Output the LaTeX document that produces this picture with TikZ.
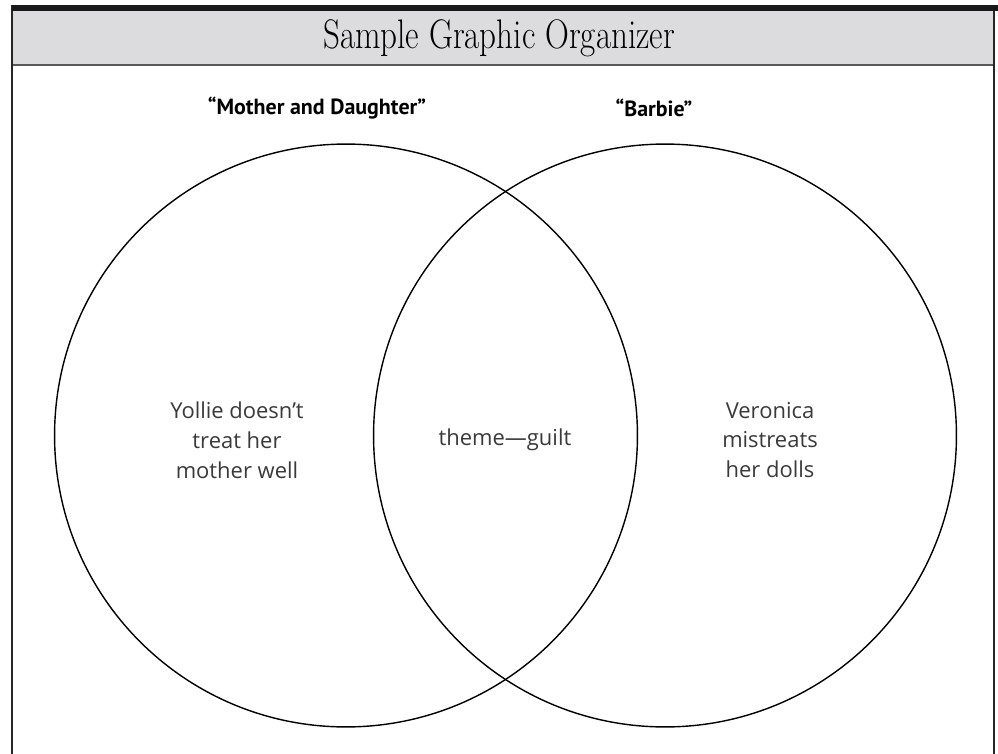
\documentclass[tikz,border=0pt]{standalone}
\usepackage{fontspec}
\usepackage{xcolor}
\newfontfamily\titlefont[FakeStretch=0.8]{Latin Modern Roman}
\newfontfamily\headfont{PT Sans}
\newfontfamily\handfont{Open Sans}
\usetikzlibrary{positioning}

\definecolor{bandgray}{HTML}{DCDCDE}
\definecolor{inkgray}{HTML}{3A3A3A}

\tikzset{
  venn/.style={circle, draw=black, line width=0.8pt, minimum size=11.66cm, inner sep=0pt},
  head/.style={font=\headfont\bfseries\fontsize{12.5}{14}\selectfont},
  hand/.style={font=\handfont\fontsize{12.5}{17}\selectfont, text=inkgray, align=center}
}

\begin{document}
\begin{tikzpicture}[x=0.02cm, y=-0.02cm]
\useasboundingbox (0,0) rectangle (998,754);
% Title band
\fill[bandgray] (12,11) rectangle (994,65);
\draw[gray!70!black, line width=1.2pt] (12,65) -- (994,65);
\draw[black!85, line width=1.1pt] (12,5) -- (12,754);
\draw[black!85, line width=1.1pt] (994,5) -- (994,754);
\fill[black!90] (12,5) rectangle (998,11);
\node[font=\titlefont\fontsize{23.5}{27}\selectfont] (title) at (499,38) {Sample Graphic Organizer};
% Two circles
\node[venn] (mother) at (346,435.5) {};
\node[venn] (barbie) at (665,435.5) {};
% Story names
\node[head] (mothername) at (317,108) {“Mother and Daughter”};
\node[head] (barbiename) at (654,108) {“Barbie”};
% Notes
\node[hand] (left) at (237,440) {Yollie doesn’t\\treat her\\mother well};
\node[hand] (both) at (505,440) {theme—guilt};
\node[hand] (right) at (770,440) {Veronica\\mistreats\\her dolls};
\end{tikzpicture}
\end{document}
